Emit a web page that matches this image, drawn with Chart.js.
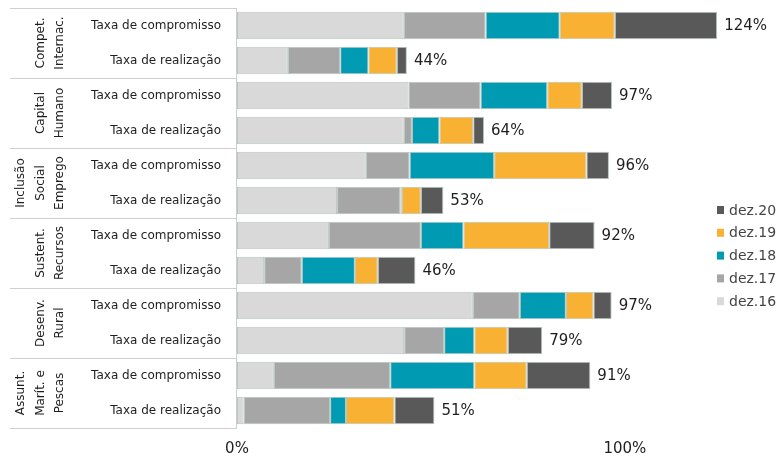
<!DOCTYPE html>
<html>
<head>
<meta charset="utf-8">
<title>Taxas de compromisso e realização</title>
<script src="https://cdn.jsdelivr.net/npm/chart.js@4/dist/chart.umd.min.js"></script>
<style>
    body { margin: 0; background: #fff; }
    #wrap { width: 781px; height: 459px; }
</style>
</head>
<body>
<div id="wrap"><canvas id="bar-chart" width="781" height="459"></canvas></div>
<script>
// dados
var linhas = ['Taxa de compromisso', 'Taxa de realização',
    'Taxa de compromisso', 'Taxa de realização',
    'Taxa de compromisso', 'Taxa de realização',
    'Taxa de compromisso', 'Taxa de realização',
    'Taxa de compromisso', 'Taxa de realização',
    'Taxa de compromisso', 'Taxa de realização'];
var grupos = [['Compet.', 'Internac.'], ['Capital', 'Humano'], ['Inclusão', 'Social', 'Emprego'],
    ['Sustent.', 'Recursos'], ['Desenv.', 'Rural'], ['Assunt.', 'Marít. e', 'Pescas']];
var series = ['dez.16', 'dez.17', 'dez.18', 'dez.19', 'dez.20'];
var dez16 = [43.0, 13.1, 44.2, 43.0, 33.2, 25.8, 23.7, 7.0, 60.8, 43.1, 9.5, 1.7];
var dez17 = [21.1, 13.5, 18.6, 2.1, 11.3, 16.3, 23.7, 9.7, 12.1, 10.3, 30.0, 22.3];
var dez18 = [19.1, 7.3, 17.2, 7.1, 21.8, 0.4, 11.0, 13.7, 11.9, 7.8, 21.7, 4.1];
var dez19 = [14.2, 7.3, 8.9, 8.7, 23.8, 4.9, 22.1, 5.9, 7.1, 8.6, 13.5, 12.5];
var dez20 = [26.4, 2.6, 7.8, 2.8, 5.8, 5.8, 11.7, 9.7, 4.7, 8.9, 16.4, 10.3];
var xTicks = [0, 100];

var cores = ['#d9d9d9', '#a6a6a6', '#009bb3', '#f8b133', '#595959'];
var valores = [dez16, dez17, dez18, dez19, dez20];
var fonte = 'DejaVu Sans';

var datasets = [];
for (var i = 0; i < series.length; i++) {
    datasets.push({
        label: series[i],
        data: valores[i],
        backgroundColor: cores[i],
        borderColor: '#b7c6bf',
        borderWidth: 1,
        borderSkipped: false
    });
}

// totais a direita de cada barra
var totaisPlugin = {
    id: 'totais',
    afterDatasetsDraw: function (chart) {
        var ctx = chart.ctx;
        var meta = chart.getDatasetMeta(datasets.length - 1);
        ctx.save();
        ctx.font = '15px "' + fonte + '"';
        ctx.fillStyle = '#1e1e1e';
        ctx.textAlign = 'left';
        ctx.textBaseline = 'middle';
        for (var j = 0; j < linhas.length; j++) {
            var soma = 0;
            for (var k = 0; k < valores.length; k++) soma += valores[k][j];
            var el = meta.data[j];
            ctx.fillText(Math.round(soma) + '%', el.x + 7, el.y + 1);
        }
        ctx.restore();
    }
};

// tabela da esquerda: linhas e nomes dos grupos
var tabelaPlugin = {
    id: 'tabela',
    afterDraw: function (chart) {
        var ctx = chart.ctx;
        var area = chart.chartArea;
        var passo = (area.bottom - area.top) / linhas.length;
        ctx.save();
        ctx.strokeStyle = '#cfcfcf';
        ctx.lineWidth = 1;
        ctx.beginPath();
        for (var g = 0; g <= grupos.length; g++) {
            var y = Math.round(area.top + g * 2 * passo) + 0.5;
            ctx.moveTo(10, y);
            ctx.lineTo(area.left, y);
        }
        ctx.moveTo(area.left - 0.5, area.top);
        ctx.lineTo(area.left - 0.5, area.bottom + 1);
        ctx.stroke();

        ctx.font = '12px "' + fonte + '"';
        ctx.fillStyle = '#1e1e1e';
        ctx.textAlign = 'center';
        ctx.textBaseline = 'middle';
        for (var g2 = 0; g2 < grupos.length; g2++) {
            var cy = area.top + (g2 * 2 + 1) * passo;
            var n = grupos[g2].length;
            for (var l = 0; l < n; l++) {
                var cx = 60 - (n - 1 - l) * 19.5;
                ctx.save();
                ctx.translate(cx, cy);
                ctx.rotate(-Math.PI / 2);
                ctx.fillText(grupos[g2][l], 0, 0);
                ctx.restore();
            }
        }
        ctx.restore();
    }
};

// legenda a direita, ordem inversa
var legendaPlugin = {
    id: 'legenda',
    afterDraw: function (chart) {
        var ctx = chart.ctx;
        ctx.save();
        ctx.font = '14px "' + fonte + '"';
        ctx.textAlign = 'left';
        ctx.textBaseline = 'middle';
        var y = 210;
        for (var i = series.length - 1; i >= 0; i--) {
            ctx.fillStyle = cores[i];
            ctx.fillRect(717, y - 4, 7, 8);
            ctx.fillStyle = '#444';
            ctx.fillText(series[i], 729, y + 1);
            y += 22.8;
        }
        ctx.restore();
    }
};

var ctx = document.getElementById('bar-chart');
var barChart = new Chart(ctx, {
    type: 'bar',
    data: {
        labels: linhas,
        datasets: datasets
    },
    options: {
        indexAxis: 'y',
        responsive: false,
        animation: false,
        devicePixelRatio: 1,
        layout: { padding: { top: 8, right: 1, left: 0, bottom: 0 } },
        datasets: { bar: { categoryPercentage: 1, barPercentage: 0.78 } },
        plugins: {
            legend: { display: false },
            tooltip: { enabled: false }
        },
        scales: {
            x: {
                stacked: true,
                min: 0,
                max: 140,
                grid: { display: false, drawTicks: false },
                border: { display: false },
                afterBuildTicks: function (scale) {
                    scale.ticks = xTicks.map(function (v) { return { value: v }; });
                },
                afterFit: function (scale) {
                    scale.height = 31;
                    scale.paddingLeft = 0;
                    scale.paddingRight = 0;
                },
                ticks: {
                    padding: 12,
                    maxRotation: 0,
                    color: '#1e1e1e',
                    font: { family: fonte, size: 15 },
                    callback: function (v) { return v + '%'; }
                }
            },
            y: {
                stacked: true,
                grid: { display: false, drawTicks: false },
                border: { display: false },
                afterFit: function (scale) {
                    scale.width = 237;
                    scale.paddingTop = 0;
                    scale.paddingBottom = 0;
                },
                ticks: {
                    padding: 16,
                    autoSkip: false,
                    color: '#1e1e1e',
                    font: { family: fonte, size: 12 }
                }
            }
        }
    },
    plugins: [totaisPlugin, tabelaPlugin, legendaPlugin]
});
</script>
</body>
</html>
